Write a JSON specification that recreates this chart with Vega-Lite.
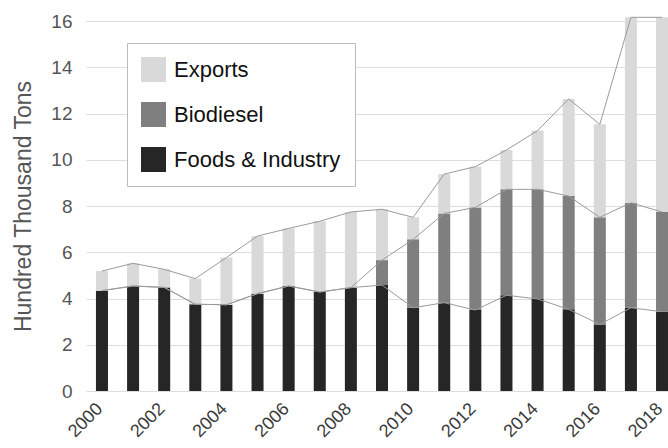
{
  "$schema": "https://vega.github.io/schema/vega-lite/v6.json",
  "width": 582,
  "height": 370,
  "autosize": {"type": "none"},
  "padding": {"left": 86, "top": 21, "right": 0, "bottom": 57},
  "background": "white",
  "config": {
    "view": {"stroke": null},
    "font": "Liberation Sans"
  },
  "data": {
    "values": [
      {"year": "2000", "Foods & Industry": 4.34, "Biodiesel": 0, "Exports": 0.85},
      {"year": "2001", "Foods & Industry": 4.54, "Biodiesel": 0, "Exports": 0.98},
      {"year": "2002", "Foods & Industry": 4.48, "Biodiesel": 0, "Exports": 0.78},
      {"year": "2003", "Foods & Industry": 3.75, "Biodiesel": 0, "Exports": 1.11},
      {"year": "2004", "Foods & Industry": 3.73, "Biodiesel": 0, "Exports": 2.04},
      {"year": "2005", "Foods & Industry": 4.21, "Biodiesel": 0, "Exports": 2.49},
      {"year": "2006", "Foods & Industry": 4.54, "Biodiesel": 0, "Exports": 2.49},
      {"year": "2007", "Foods & Industry": 4.28, "Biodiesel": 0, "Exports": 3.06},
      {"year": "2008", "Foods & Industry": 4.47, "Biodiesel": 0, "Exports": 3.27},
      {"year": "2009", "Foods & Industry": 4.58, "Biodiesel": 1.08, "Exports": 2.20},
      {"year": "2010", "Foods & Industry": 3.60, "Biodiesel": 2.96, "Exports": 0.95},
      {"year": "2011", "Foods & Industry": 3.82, "Biodiesel": 3.86, "Exports": 1.70},
      {"year": "2012", "Foods & Industry": 3.50, "Biodiesel": 4.44, "Exports": 1.76},
      {"year": "2013", "Foods & Industry": 4.14, "Biodiesel": 4.58, "Exports": 1.70},
      {"year": "2014", "Foods & Industry": 3.98, "Biodiesel": 4.74, "Exports": 2.54},
      {"year": "2015", "Foods & Industry": 3.53, "Biodiesel": 4.90, "Exports": 4.20},
      {"year": "2016", "Foods & Industry": 2.88, "Biodiesel": 4.63, "Exports": 4.02},
      {"year": "2017", "Foods & Industry": 3.60, "Biodiesel": 4.54, "Exports": 8.02},
      {"year": "2018", "Foods & Industry": 3.43, "Biodiesel": 4.31, "Exports": 8.42}
    ]
  },
  "transform": [
    {"fold": ["Foods & Industry", "Biodiesel", "Exports"], "as": ["use", "amount"]},
    {"stack": "amount", "groupby": ["year"], "as": ["lo", "hi"]}
  ],
  "encoding": {
    "x": {
      "field": "year",
      "type": "ordinal",
      "scale": {"range": [0, 592], "paddingInner": 0.614, "paddingOuter": 0.32},
      "axis": {
        "title": null,
        "values": ["2000", "2002", "2004", "2006", "2008", "2010", "2012", "2014", "2016", "2018"],
        "labelAngle": -45,
        "labelAlign": "right",
        "labelBaseline": "middle",
        "labelPadding": 15,
        "labelOffset": -2,
        "labelFontSize": 18,
        "labelColor": "#3a3a3a",
        "ticks": false,
        "domain": false,
        "grid": false
      }
    }
  },
  "layer": [
    {
      "mark": {"type": "bar"},
      "encoding": {
        "y": {
          "field": "hi",
          "type": "quantitative",
          "scale": {"domain": [0, 16], "nice": false},
          "axis": {
            "title": "Hundred Thousand Tons",
            "titleFontSize": 23,
            "titleFontWeight": "normal",
            "titleColor": "#555555",
            "titlePadding": 15,
            "values": [0, 2, 4, 6, 8, 10, 12, 14, 16],
            "labelFontSize": 19,
            "labelColor": "#555555",
            "labelPadding": 14,
            "ticks": false,
            "domain": false,
            "grid": true,
            "gridColor": "#dddddd",
            "gridWidth": 1
          }
        },
        "y2": {"field": "lo"},
        "color": {
          "field": "use",
          "type": "nominal",
          "scale": {
            "domain": ["Exports", "Biodiesel", "Foods & Industry"],
            "range": ["#d9d9d9", "#7f7f7f", "#262626"]
          },
          "legend": {
            "title": null,
            "orient": "none",
            "legendX": 41,
            "legendY": 22,
            "symbolType": "square",
            "symbolSize": 625,
            "symbolStrokeWidth": 0,
            "labelFontSize": 22,
            "labelColor": "#111111",
            "labelOffset": 8,
            "labelLimit": 300,
            "rowPadding": 20,
            "padding": 14,
            "strokeColor": "#bbbbbb",
            "fillColor": "white"
          }
        }
      }
    },
    {
      "mark": {"type": "line", "color": "#9a9a9a", "strokeWidth": 1},
      "encoding": {
        "y": {"field": "hi", "type": "quantitative"},
        "detail": {"field": "use", "type": "nominal"}
      }
    }
  ]
}
